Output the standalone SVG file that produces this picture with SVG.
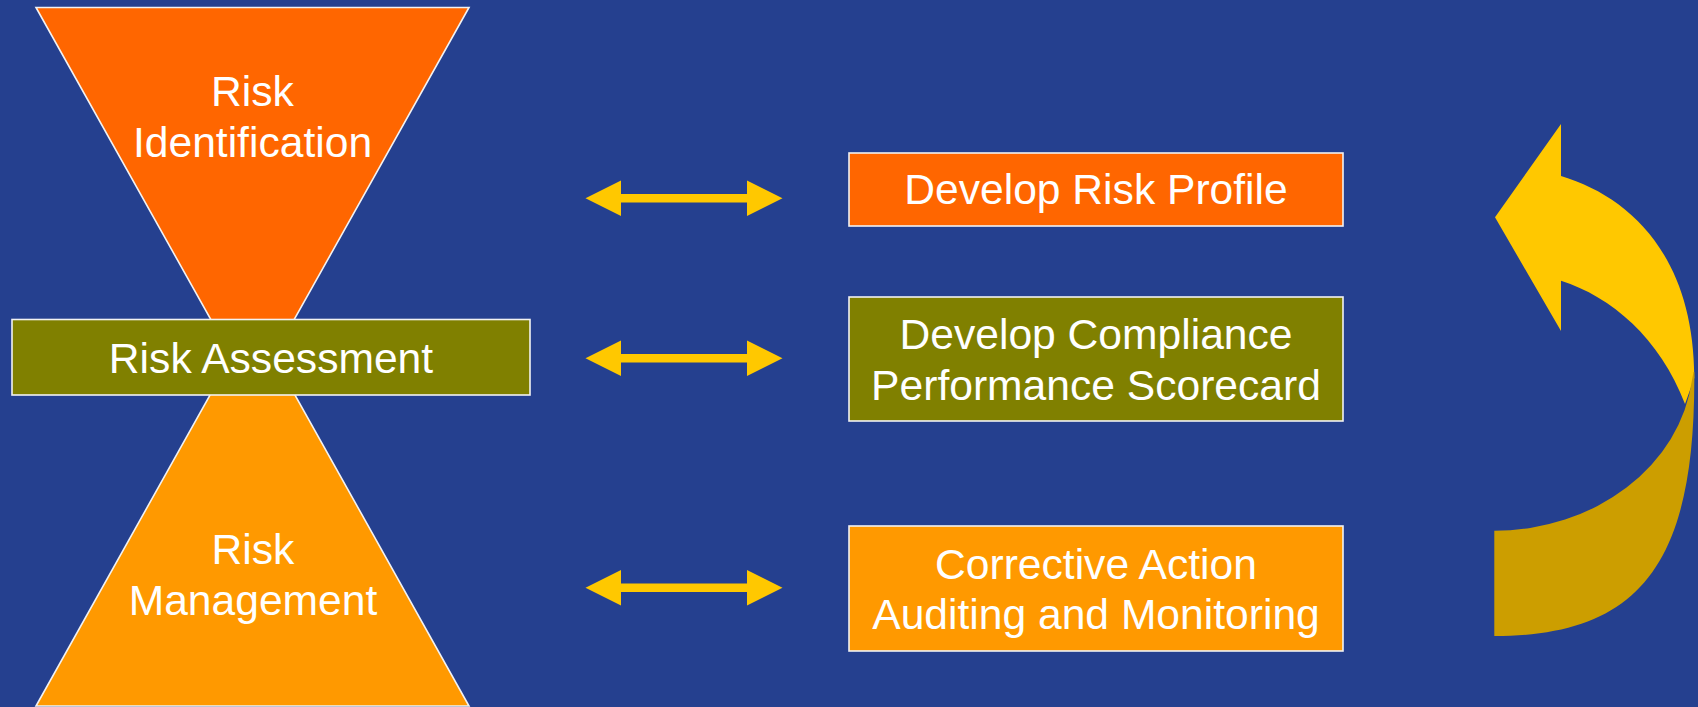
<svg xmlns="http://www.w3.org/2000/svg" width="1698" height="707" viewBox="0 0 1698 707">
<style>
.lbl{font-family:"Liberation Sans",Arial,sans-serif;font-size:42.6px;fill:#FFFFFF;text-anchor:middle}
.edge{stroke:#F2F2F2;stroke-width:1.6}
.dbl{fill:#FFC800}
</style>
<defs>
<path id="dblarrow" d="M585.5,0 L621,-17.7 L621,-4.2 L747,-4.2 L747,-17.7 L782.5,0 L747,17.7 L747,4.2 L621,4.2 L621,17.7 Z"/>
</defs>
<rect x="0" y="0" width="1698" height="707" fill="#25408F"/>
<g id="risk-identification">
<polygon class="edge" points="36,7.5 469,7.5 257.5,385 247.5,385" fill="#FF6600"/>
<text class="lbl" x="252.5" y="106">Risk</text>
<text class="lbl" x="252.5" y="157">Identification</text>
</g>
<g id="risk-management">
<polygon class="edge" points="246.4,330 258.6,330 469,706 36,706" fill="#FF9900"/>
<text class="lbl" x="253" y="564">Risk</text>
<text class="lbl" x="253" y="615">Management</text>
</g>
<g id="risk-assessment">
<rect class="edge" x="12" y="319.5" width="518" height="75.5" fill="#808000"/>
<text class="lbl" x="271" y="373">Risk Assessment</text>
</g>
<g id="develop-risk-profile">
<rect class="edge" x="849" y="153" width="494" height="73" fill="#FF6600"/>
<text class="lbl" x="1096" y="204">Develop Risk Profile</text>
</g>
<g id="develop-compliance">
<rect class="edge" x="849" y="297" width="494" height="124" fill="#808000"/>
<text class="lbl" x="1096" y="349">Develop Compliance</text>
<text class="lbl" x="1096" y="400">Performance Scorecard</text>
</g>
<g id="corrective-action">
<rect class="edge" x="849" y="526" width="494" height="125" fill="#FF9900"/>
<text class="lbl" x="1096" y="579">Corrective Action</text>
<text class="lbl" x="1096" y="629">Auditing and Monitoring</text>
</g>
<g id="connectors">
<use href="#dblarrow" class="dbl" transform="translate(0,198.3)"/>
<use href="#dblarrow" class="dbl" transform="translate(0,358.3)"/>
<use href="#dblarrow" class="dbl" transform="translate(0,587.7)"/>
</g>
<g id="cycle-arrow">
<path d="M1495,217.3 L1561,124 L1561,176 C1631,197 1694,257 1694.3,378 L1685,404 C1660,338 1611,296.5 1561,280.7 L1561,331 Z" fill="#FFC800"/>
<path d="M1694.3,372 L1694.3,380 C1694.3,566 1638,636 1494.3,636 L1494.3,530.7 A199,170.7 0 0 0 1692,380 L1693.5,372 Z" fill="#CC9E00"/>
</g>
</svg>
